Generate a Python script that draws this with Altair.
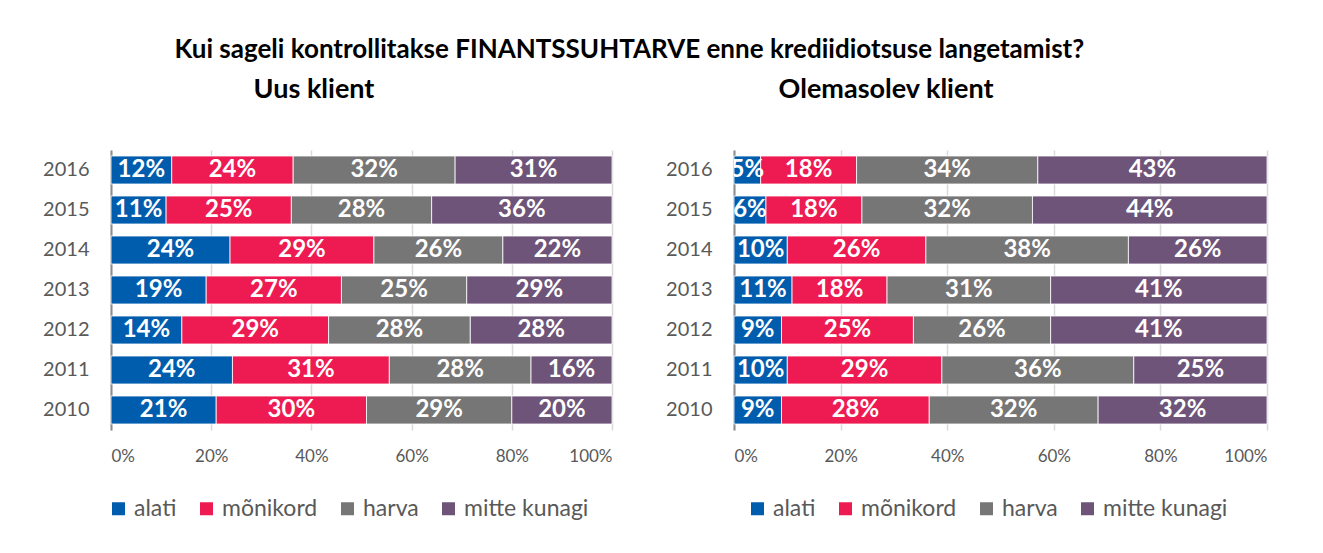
import altair as alt
import pandas as pd

years = ["2016", "2015", "2014", "2013", "2012", "2011", "2010"]
categories = ["alati", "mõnikord", "harva", "mitte kunagi"]
colors = ["#005DAE", "#EE1B53", "#767676", "#6E5479"]

# Uus klient
uus_alati = [12, 11, 24, 19, 14, 24, 21]
uus_monikord = [24, 25, 29, 27, 29, 31, 30]
uus_harva = [32, 28, 26, 25, 28, 28, 29]
uus_mitte = [31, 36, 22, 29, 28, 16, 20]

# Olemasolev klient
ole_alati = [5, 6, 10, 11, 9, 10, 9]
ole_monikord = [18, 18, 26, 18, 25, 29, 28]
ole_harva = [34, 32, 38, 31, 26, 36, 32]
ole_mitte = [43, 44, 26, 41, 41, 25, 32]

x_ticks = [0, 0.2, 0.4, 0.6, 0.8, 1.0]

FONT = "Lato"
GREY_TXT = "#595959"


def panel(series, title_text, width, title_dx, legend_x):
    rows = []
    for ci, (cat, vals) in enumerate(zip(categories, series)):
        for yr, v in zip(years, vals):
            rows.append({"year": yr, "cat": cat, "order": ci, "value": v, "label": f"{v}%"})
    df = pd.DataFrame(rows)

    base = alt.Chart(df).transform_stack(
        stack="value",
        groupby=["year"],
        as_=["v0", "v1"],
        offset="normalize",
        sort=[alt.SortField("order", order="ascending")],
    )

    y_axis = alt.Axis(
        labelFont=FONT, labelFontSize=20, labelColor=GREY_TXT,
        labelPadding=22, ticks=False, domain=True,
        domainColor="#8C8C8C", domainWidth=2, grid=False,
        minExtent=65, maxExtent=65,
    )
    x_axis = alt.Axis(
        values=x_ticks, format="%", labelFont=FONT, labelFontSize=17,
        labelColor=GREY_TXT, labelPadding=18, ticks=False, domain=False,
        grid=True, gridColor="#D9D9D9", gridWidth=1.5,
    )
    y_scale = alt.Scale(paddingInner=0.3, paddingOuter=0.15)
    x_scale = alt.Scale(domain=[0, 1], nice=False)

    bars = base.mark_bar(stroke="white", strokeWidth=0.8).encode(
        x=alt.X("v0:Q", scale=x_scale, title=None, axis=x_axis),
        x2="v1:Q",
        y=alt.Y("year:N", sort=years, title=None, scale=y_scale, axis=y_axis),
        color=alt.Color(
            "cat:N",
            scale=alt.Scale(domain=categories, range=colors),
            legend=alt.Legend(
                title=None, orient="none", legendX=legend_x, legendY=347,
                direction="horizontal", columns=4, symbolType="square",
                symbolSize=169, symbolStrokeWidth=0, labelFont=FONT,
                labelFontSize=23, labelColor=GREY_TXT, columnPadding=18,
                labelOffset=4, padding=0,
            ),
        ),
    )

    text = base.transform_calculate(mid="(datum.v0 + datum.v1) / 2").mark_text(
        color="white", font=FONT, fontWeight="bold", fontSize=24, clip=True,
        baseline="middle", align="center",
    ).encode(
        x=alt.X("mid:Q", scale=x_scale, title=None, axis=x_axis),
        y=alt.Y("year:N", sort=years, title=None, scale=y_scale, axis=y_axis),
        text="label:N",
    )

    return alt.layer(bars, text).properties(
        width=width,
        height=280,
        title=alt.TitleParams(
            title_text, anchor="start", dx=title_dx, font=FONT, fontSize=27,
            fontWeight="bold", color="black", offset=46,
        ),
    )


left = panel([uus_alati, uus_monikord, uus_harva, uus_mitte], "Uus klient", 501, 211, -4)
right = panel([ole_alati, ole_monikord, ole_harva, ole_mitte], "Olemasolev klient", 533, 113, 12)

chart = (
    alt.hconcat(left, right, spacing=122, bounds="flush")
    .resolve_scale(color="independent")
    .resolve_legend(color="independent")
    .properties(
        title=alt.TitleParams(
            "Kui sageli kontrollitakse FINANTSSUHTARVE enne krediidiotsuse langetamist?",
            anchor="start", dx=132, font=FONT, fontSize=26, fontWeight="bold",
            color="black", offset=13,
        ),
        padding={"left": 34, "top": 29, "right": 10, "bottom": 10},
        background="white",
    )
    .configure_view(stroke=None)
)

chart.save("out.html", embed_options={"renderer": "svg", "actions": False})
